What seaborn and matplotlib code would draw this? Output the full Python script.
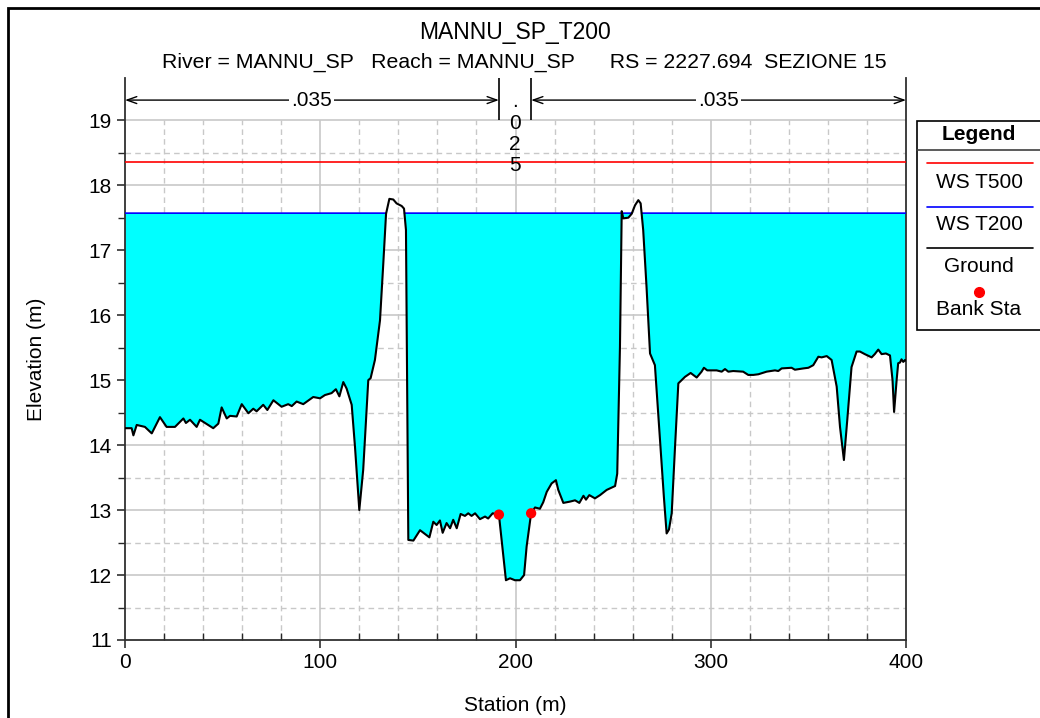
import numpy as np
import matplotlib
matplotlib.use("Agg")
import matplotlib.pyplot as plt
from matplotlib.lines import Line2D
from matplotlib.patches import Rectangle
import seaborn as sns

# Ground profile (station, elevation) read from the cross-section
station = [0, 3.4, 4.3, 6.0, 10.2, 13.7, 17.9, 21.3, 25.6, 29.9, 31.2, 33.3, 36.7, 38.4,
           45.2, 47.8, 49.5, 52.1, 53.8, 57.2, 59.8, 63.2, 65.7, 67.4, 70.8, 72.9, 76.0,
           80.2, 83.6, 85.4, 87.9, 91.3, 96.4, 99.9, 102.4, 105.8, 108.0, 109.8, 111.8,
           113.5, 116.1, 117.8, 120.0, 122.0, 124.6, 125.8, 128.0, 130.6, 132.3, 133.7,
           135.4, 137.4, 139.1, 141.7, 142.9, 143.9, 145.1, 147.7, 151.1, 155.9, 157.9,
           159.6, 161.3, 162.7, 164.7, 166.5, 168.1, 169.9, 171.9, 174.1, 175.8, 177.5,
           179.3, 181.8, 184.4, 186.0, 188.3, 191.5, 195.1, 197.2, 199.7, 202.3, 204.4,
           205.7, 208.0, 210.0, 212.5, 214.2, 216.0, 218.5, 220.7, 221.9, 224.5, 227.9,
           230.5, 232.7, 234.8, 236.1, 237.8, 240.7, 243.3, 246.7, 251.0, 252.1, 253.5,
           254.4, 255.2, 257.8, 259.5, 261.2, 262.9, 264.1, 265.4, 267.1, 268.9, 271.4,
           274.0, 276.0, 277.4, 278.6, 280.0, 281.7, 283.4, 285.1, 286.8, 289.7, 292.8,
           295.3, 296.5, 298.2, 303.0, 305.6, 307.3, 309.0, 311.5, 316.6, 319.2, 321.8,
           324.4, 328.6, 332.9, 334.6, 336.3, 341.4, 343.1, 347.4, 350.0, 352.5, 355.1,
           356.8, 359.4, 361.9, 364.5, 366.2, 368.2, 369.9, 372.1, 374.7, 376.4, 378.9,
           382.4, 384.0, 385.8, 387.5, 389.7, 391.8, 393.1, 393.9, 395.2, 396.0, 396.9,
           397.7, 398.6, 399.5, 400.0]
elevation = [14.26, 14.26, 14.15, 14.31, 14.28, 14.18, 14.43, 14.28, 14.28, 14.41, 14.34,
             14.39, 14.28, 14.39, 14.26, 14.33, 14.58, 14.41, 14.45, 14.44, 14.63, 14.49,
             14.56, 14.52, 14.62, 14.54, 14.69, 14.59, 14.63, 14.60, 14.67, 14.63, 14.74,
             14.72, 14.77, 14.80, 14.86, 14.75, 14.97, 14.87, 14.62, 13.97, 13.00, 13.62,
             15.00, 15.03, 15.31, 15.92, 16.80, 17.56, 17.79, 17.78, 17.72, 17.68, 17.64,
             17.31, 12.54, 12.53, 12.69, 12.58, 12.82, 12.77, 12.84, 12.65, 12.80, 12.72,
             12.85, 12.72, 12.94, 12.91, 12.95, 12.91, 12.95, 12.86, 12.90, 12.87, 12.95,
             12.93, 11.92, 11.95, 11.92, 11.92, 12.00, 12.44, 12.95, 13.04, 13.02, 13.12,
             13.28, 13.41, 13.46, 13.31, 13.11, 13.13, 13.15, 13.11, 13.22, 13.16, 13.23,
             13.18, 13.23, 13.31, 13.37, 13.56, 15.51, 17.60, 17.49, 17.50, 17.56, 17.69,
             17.77, 17.72, 17.31, 16.44, 15.41, 15.23, 14.08, 13.20, 12.64, 12.70, 12.95,
             13.97, 14.95, 15.00, 15.05, 15.11, 15.04, 15.13, 15.19, 15.15, 15.15, 15.13,
             15.17, 15.13, 15.14, 15.13, 15.08, 15.08, 15.09, 15.13, 15.15, 15.14, 15.18,
             15.19, 15.16, 15.18, 15.19, 15.23, 15.36, 15.35, 15.37, 15.31, 14.90, 14.28,
             13.77, 14.38, 15.20, 15.44, 15.44, 15.40, 15.35, 15.40, 15.47, 15.40, 15.41,
             15.38, 15.00, 14.51, 15.00, 15.26, 15.27, 15.32, 15.28, 15.31, 15.30]

bank_sta = [191.5, 208.0]
bank_elev = [12.93, 12.95]

ws_t500 = 18.35
ws_t200 = 17.57

n_values = [".035", ".025", ".035"]
n_breaks = [0, 191.5, 208.0, 400]

sns.set_style("white")
plt.rcParams['font.family'] = ['Liberation Sans', 'DejaVu Sans']
plt.rcParams['text.color'] = 'black'
plt.rcParams['axes.labelcolor'] = 'black'

FS = 15

W, H = 1040, 718
fig = plt.figure(figsize=(W / 100, H / 100), dpi=100)
ax = fig.add_axes([125 / W, 1 - 640 / H, (906 - 125) / W, (640 - 78) / H])

x = np.array(station)
g = np.array(elevation)

# grid limited to the 11..19 band
grid_c = "#c8c8c8"
for xv in range(20, 400, 20):
    solid = xv % 100 == 0
    ax.vlines(xv, 11, 19, color=grid_c, lw=1.2 if solid else 1.0,
              linestyles="solid" if solid else (0, (4, 3)), zorder=0)
for yv in np.arange(11.5, 19.01, 0.5):
    solid = float(yv).is_integer()
    ax.hlines(yv, 0, 400, color=grid_c, lw=1.2 if solid else 1.0,
              linestyles="solid" if solid else (0, (4, 3)), zorder=0)

# water (T200)
ax.fill_between(x, g, ws_t200, where=g < ws_t200, interpolate=True,
                color="#00ffff", lw=0, zorder=1)
xf = np.linspace(0, 400, 8001)
gf = np.interp(xf, x, g)
ax.plot(xf, np.where(gf <= ws_t200, ws_t200, np.nan), color="#0000ff", lw=1.2, zorder=3)

# T500 surface
ax.plot([x.min(), x.max()], [ws_t500, ws_t500], color="#ff0000", lw=1.2, zorder=3)

# ground and bank stations
sns.lineplot(x=x, y=g, sort=False, estimator=None, color="black", lw=1.5, ax=ax, zorder=4)
sns.scatterplot(x=bank_sta, y=bank_elev, color="#ff0000", s=55, edgecolor="none",
                ax=ax, zorder=5)

ax.set_xlim(0, 400)
ax.set_ylim(11, 19.65)

# Manning's n annotations
y_arrow = 19.31
ax.vlines(n_breaks[1:3], 19.0, 19.65, color="black", lw=1.2, zorder=4)
for i, nv in enumerate(n_values):
    a, b = n_breaks[i], n_breaks[i + 1]
    if b - a > 50:
        ax.annotate("", xy=(a, y_arrow), xytext=(b, y_arrow),
                    arrowprops=dict(arrowstyle="<->,head_length=0.7,head_width=0.25",
                                    color="black", lw=1.0, shrinkA=0, shrinkB=0),
                    annotation_clip=False)
        ax.text((a + b) / 2, y_arrow, nv, ha="center", va="center", fontsize=FS,
                bbox=dict(facecolor="white", edgecolor="none", pad=1.5), zorder=6)
    else:
        ax.text((a + b) / 2, 18.79, "\n".join(nv), ha="center", va="center",
                fontsize=FS, linespacing=1.16, zorder=6)

# spines and ticks
for s in ["left", "bottom", "right"]:
    ax.spines[s].set_color("#303030")
    ax.spines[s].set_linewidth(1.3)
ax.spines["top"].set_visible(False)
ax.set_xticks(range(0, 401, 100))
ax.set_xticks(range(0, 401, 20), minor=True)
ax.set_yticks(range(11, 20))
ax.set_yticks(np.arange(11, 19.01, 0.5), minor=True)
ax.tick_params(axis="both", which="major", direction="out", length=6, width=1.2,
               labelsize=FS, colors="#303030", labelcolor="black", left=True, bottom=True)
ax.tick_params(axis="x", which="minor", direction="in", length=5, width=1.0, bottom=True)
ax.tick_params(axis="y", which="minor", direction="out", length=5, width=1.0, left=True)
ax.tick_params(axis="y", which="both", right=False)
ax.set_xlabel("Station (m)", fontsize=FS, labelpad=17)
ax.set_ylabel("Elevation (m)", fontsize=FS, labelpad=31)
ax.grid(False)

# titles
fig.text(515 / W, 1 - 32 / H, "MANNU_SP_T200", ha="center", va="center", fontsize=16.5)
fig.text(524 / W, 1 - 62 / H,
         "River = MANNU_SP   Reach = MANNU_SP      RS = 2227.694  SEZIONE 15",
         ha="center", va="center", fontsize=15.3)

# legend panel
def fx(px):
    return px / W

def fy(py):
    return 1 - py / H

fig.patches.append(Rectangle((fx(917), fy(330)), fx(1060) - fx(917), fy(121) - fy(330),
                             transform=fig.transFigure, facecolor="white",
                             edgecolor="black", lw=1.2))
fig.text(fx(979), fy(134), "Legend", ha="center", va="center", fontsize=FS,
         fontweight="bold")
fig.lines.append(Line2D([fx(917), fx(1040)], [fy(150), fy(150)], transform=fig.transFigure,
                        color="#404040", lw=1.2))
leg_items = [("WS T500", "#ff0000", 163, 182),
             ("WS T200", "#0000ff", 207, 225),
             ("Ground", "black", 248, 267)]
for lab, col, ly, ty in leg_items:
    fig.lines.append(Line2D([fx(927), fx(1033)], [fy(ly), fy(ly)],
                            transform=fig.transFigure, color=col, lw=1.2))
    fig.text(fx(979), fy(ty), lab, ha="center", va="center", fontsize=FS)
fig.lines.append(Line2D([fx(979)], [fy(292)], transform=fig.transFigure, marker="o",
                        markersize=7, color="#ff0000", lw=0))
fig.text(fx(979), fy(310), "Bank Sta", ha="center", va="center", fontsize=FS)

# outer frame
fig.patches.append(Rectangle((fx(8), -0.1), 1.2, fy(8) + 0.1, transform=fig.transFigure,
                             facecolor="none", edgecolor="black", lw=2.0))

fig.savefig("out.png", dpi=100)
